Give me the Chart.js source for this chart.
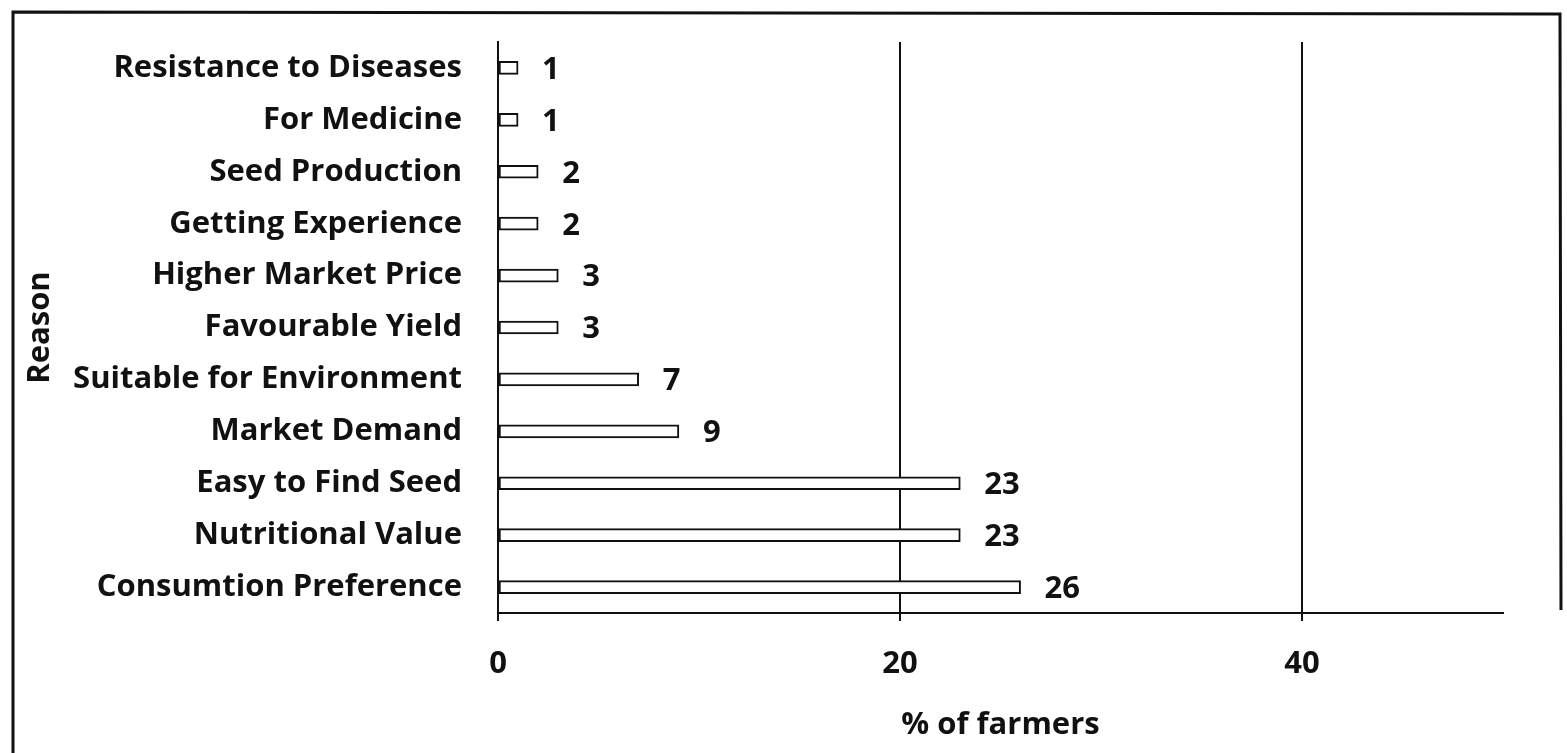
<!DOCTYPE html>
<html>
<head>
<meta charset="utf-8">
<script src="https://cdn.jsdelivr.net/npm/chart.js@4"></script>
<style>
  html, body { margin: 0; padding: 0; background: #fff; }
  #wrap { width: 1567px; height: 753px; position: relative; }
</style>
</head>
<body>
<div id="wrap"><canvas id="chart"></canvas></div>
<script>
const reasons = [
  "Resistance to Diseases",
  "For Medicine",
  "Seed Production",
  "Getting Experience",
  "Higher Market Price",
  "Favourable Yield",
  "Suitable for Environment",
  "Market Demand",
  "Easy to Find Seed",
  "Nutritional Value",
  "Consumtion Preference"
];
const farmers = [1, 1, 2, 2, 3, 3, 7, 9, 23, 23, 26];
const xTicks = [0, 20, 40];

const FONT = "'Open Sans'";
const INK = "#111";

// frame round the picture + value labels at the bar ends
const extras = {
  id: "extras",
  beforeDraw(chart) {
    const ctx = chart.ctx;
    ctx.save();
    ctx.strokeStyle = INK;
    ctx.lineWidth = 3;
    ctx.beginPath();
    ctx.moveTo(13, 753);
    ctx.lineTo(13, 12);
    ctx.lineTo(1560, 14);
    ctx.lineTo(1561, 610);
    ctx.stroke();
    ctx.restore();
  },
  afterDatasetsDraw(chart) {
    const ctx = chart.ctx;
    const meta = chart.getDatasetMeta(0);
    ctx.save();
    ctx.fillStyle = INK;
    ctx.font = "bold 31px " + FONT;
    ctx.textAlign = "left";
    ctx.textBaseline = "middle";
    meta.data.forEach((bar, i) => {
      ctx.fillText(String(farmers[i]), bar.x + 24, bar.y + 2);
    });
    ctx.restore();
  }
};

new Chart(document.getElementById("chart"), {
  type: "bar",
  data: {
    labels: reasons,
    datasets: [{
      data: farmers,
      backgroundColor: "#fff",
      borderColor: INK,
      borderWidth: 2,
      borderSkipped: false,
      barThickness: 13
    }]
  },
  options: {
    indexAxis: "y",
    responsive: true,
    maintainAspectRatio: false,
    animation: false,
    layout: { padding: { top: 42, right: 64, left: 0, bottom: 0 } },
    plugins: { legend: { display: false }, tooltip: { enabled: false } },
    scales: {
      x: {
        min: 0,
        max: 50,
        afterBuildTicks(scale) {
          scale.ticks = xTicks.map(v => ({ value: v }));
        },
        afterFit(scale) { scale.height = 753 - 613; },
        grid: { color: INK, lineWidth: 2, tickLength: 8, drawOnChartArea: true },
        border: { display: true, color: INK, width: 2 },
        ticks: { color: INK, font: { family: FONT, size: 31, weight: "bold" }, padding: 25 },
        title: {
          display: true,
          text: "% of farmers",
          color: INK,
          font: { family: FONT, size: 31, weight: "bold" },
          padding: { top: 4, bottom: 9 }
        }
      },
      y: {
        afterFit(scale) {
          scale.width = 498;
          scale.paddingTop = 0;
          scale.paddingBottom = 0;
        },
        grid: { display: false },
        border: { display: true, color: INK, width: 2 },
        ticks: { color: INK, font: { family: FONT, size: 31, weight: "bold" }, padding: 28 },
        title: {
          display: true,
          text: "Reason",
          color: INK,
          font: { family: FONT, size: 31, weight: "bold" },
          padding: { top: 22 }
        }
      }
    }
  },
  plugins: [extras]
});
</script>
</body>
</html>
